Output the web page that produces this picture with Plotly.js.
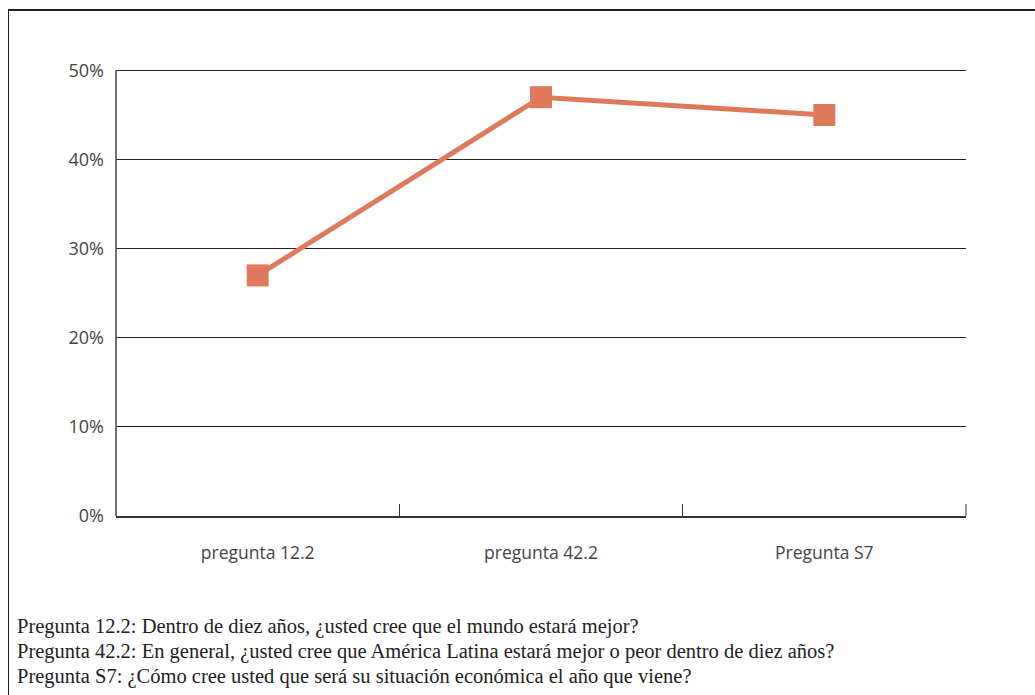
<!DOCTYPE html>
<html>
<head>
<meta charset="utf-8">
<script src="https://cdn.plot.ly/plotly-3.0.1.min.js"></script>
<style>
  body { margin: 0; background: #fff; }
  #frame {
    position: absolute; left: 8px; top: 9px; width: 1100px; height: 720px;
    border-left: 1px solid #222; border-top: 2px solid #222;
  }
  #chart { position: absolute; left: 0; top: 0; width: 1035px; height: 695px; }
</style>
</head>
<body>
<div id="frame"></div>
<div id="chart"></div>
<script>
const categories = ["pregunta 12.2", "pregunta 42.2", "Pregunta S7"];
const values = [0.27, 0.47, 0.45];
const yTicks = [0, 0.1, 0.2, 0.3, 0.4, 0.5];
const notes = [
  "Pregunta 12.2: Dentro de diez años, ¿usted cree que el mundo estará mejor?",
  "Pregunta 42.2: En general, ¿usted cree que América Latina estará mejor o peor dentro de diez años?",
  "Pregunta S7: ¿Cómo cree usted que será su situación económica el año que viene?",
];

const ORANGE = "#DE7A5B";
const sans = '"Open Sans", "Noto Sans", sans-serif';
const serif = '"Liberation Serif", "DejaVu Serif", serif';

const trace = {
  x: categories,
  y: values,
  type: "scatter",
  mode: "lines+markers",
  line: { color: ORANGE, width: 5 },
  marker: { symbol: "square", size: 22, color: ORANGE },
  hoverinfo: "skip",
};

// plot area is 450px tall for a 0..0.505 range
const noteY = [-110 / 450, -135 / 450, -160 / 450];
const annotations = notes.map((t, i) => ({
  text: t,
  xref: "paper",
  yref: "paper",
  x: -0.119,
  y: noteY[i],
  xanchor: "left",
  yanchor: "middle",
  showarrow: false,
  font: { family: serif, size: 20.5, color: "#222" },
}));

const layout = {
  width: 1035,
  height: 695,
  margin: { l: 116, r: 69, t: 66, b: 179 },
  paper_bgcolor: "rgba(0,0,0,0)",
  plot_bgcolor: "rgba(0,0,0,0)",
  showlegend: false,
  font: { family: sans, size: 16, color: "#444" },
  xaxis: {
    type: "category",
    range: [-0.5, 2.5],
    tickson: "boundaries",
    ticks: "inside",
    ticklen: 12,
    tickcolor: "#333",
    showline: true,
    linecolor: "#333",
    linewidth: 1.5,
    showgrid: false,
    zeroline: false,
    ticklabelstandoff: 20,
    tickfont: { family: sans, size: 17.5, color: "#444" },
  },
  yaxis: {
    range: [0, 0.505],
    tickvals: yTicks,
    tickformat: ".0%",
    showline: false,
    showgrid: true,
    gridcolor: "#222",
    gridwidth: 1,
    zeroline: false,
    ticks: "",
    ticklabelstandoff: 11,
    tickfont: { family: sans, size: 18, color: "#444" },
  },
  shapes: [
    // y axis line, stopping at the top gridline
    {
      type: "line", xref: "paper", yref: "y",
      x0: 0, x1: 0, y0: 0, y1: yTicks[yTicks.length - 1],
      line: { color: "#444", width: 1.5 },
    },
    // closing tick at the right end of the category axis
    {
      type: "line", xref: "paper", yref: "paper",
      x0: 1, x1: 1, y0: 0, y1: 12 / 450,
      line: { color: "#333", width: 1 },
    },
  ],
  annotations,
};

Plotly.newPlot("chart", [trace], layout, { staticPlot: true, displayModeBar: false });
</script>
</body>
</html>
